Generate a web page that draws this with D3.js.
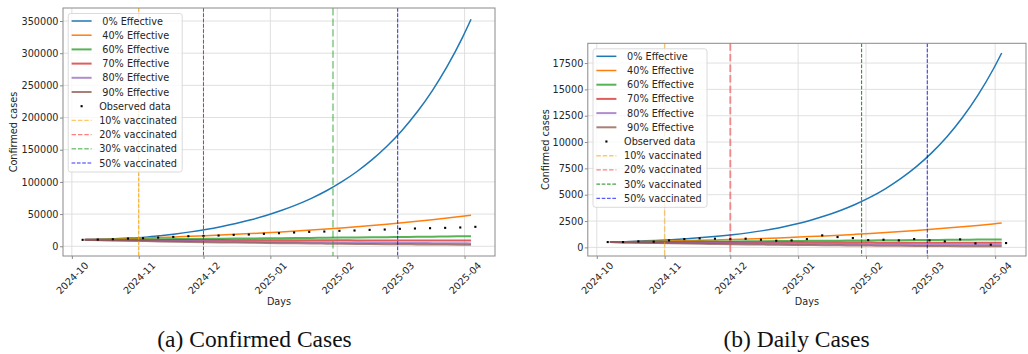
<!DOCTYPE html>
<html>
<head>
<meta charset="utf-8">
<script src="https://cdn.jsdelivr.net/npm/d3@7"></script>
<style>
  html, body { margin: 0; padding: 0; background: #fff; }
  svg { display: block; }
  text { font-family: "DejaVu Sans", sans-serif; }
</style>
</head>
<body>
<svg id="chart" width="1028" height="354"></svg>
<script>
// ---- data ----------------------------------------------------------------
const observedDates = [
  "2024-10-06","2024-10-13","2024-10-20","2024-10-27","2024-11-03","2024-11-10","2024-11-17",
  "2024-11-24","2024-12-01","2024-12-08","2024-12-15","2024-12-22","2024-12-29","2025-01-05",
  "2025-01-12","2025-01-19","2025-01-26","2025-02-02","2025-02-09","2025-02-16","2025-02-23",
  "2025-03-02","2025-03-09","2025-03-16","2025-03-23","2025-03-30","2025-04-06"
];
const modelDates = [
  "2024-10-07","2024-10-14","2024-10-21","2024-10-28","2024-11-04","2024-11-11","2024-11-18",
  "2024-11-25","2024-12-02","2024-12-09","2024-12-16","2024-12-23","2024-12-30","2025-01-06",
  "2025-01-13","2025-01-20","2025-01-27","2025-02-03","2025-02-10","2025-02-17","2025-02-24",
  "2025-03-03","2025-03-10","2025-03-17","2025-03-24","2025-03-31","2025-04-04"
];

const efficacyLabels = [" 0% Effective", " 40% Effective", " 60% Effective", " 70% Effective", " 80% Effective", " 90% Effective"];
const vaccinationLabels = ["10% vaccinated", "20% vaccinated", "30% vaccinated", "50% vaccinated"];
const vaccinationDates = ["2024-11-01", "2024-12-01", "2025-01-30", "2025-03-01"];

// cumulative confirmed cases
const confirmedObserved = [10000, 10400, 11000, 12000, 12500, 13500, 14600, 15600, 16100, 16700, 17700, 18200, 19300, 20300,
  21400, 22400, 22900, 24000, 24500, 25500, 26000, 27100, 27600, 28100, 28600, 29200, 30200];
const confirmed0 = [10000, 10830, 11730, 12710, 14190, 16520, 19230, 22380, 26050, 30330, 35300, 41090, 47850, 55510,
  64310, 74490, 86300, 99960, 115800, 134150, 155400, 180000, 208560, 241570, 279820, 324170, 352700];
const confirmed40 = [10000, 10640, 11310, 12030, 12790, 13610, 14470, 15390, 16370, 17410, 18520, 19690, 20940, 22270,
  23690, 25190, 26790, 28500, 30310, 32230, 34280, 36460, 38770, 41240, 43860, 46640, 48320];
const confirmed60 = [10000, 10177, 10357, 10540, 10726, 10915, 11108, 11305, 11505, 11708, 11915, 12125, 12339, 12557,
  12779, 13005, 13234, 13468, 13706, 13948, 14194, 14445, 14700, 14960, 15224, 15493, 15644];
const confirmed70 = [10000, 9950, 9900, 9851, 9802, 9753, 9704, 9656, 9608, 9560, 9512, 9465, 9418, 9371,
  9324, 9277, 9231, 9185, 9139, 9094, 9048, 9003, 8958, 8914, 8869, 8825, 8800];
const confirmed80 = [10000, 9693, 9395, 9106, 8826, 8555, 8292, 8037, 7790, 7550, 7318, 7093, 6875, 6664,
  6459, 6260, 6068, 5881, 5700, 5525, 5355, 5191, 5031, 4877, 4727, 4581, 4500];
const confirmed90 = [10000, 9457, 8944, 8458, 7999, 7565, 7154, 6766, 6399, 6051, 5723, 5412, 5118, 4840,
  4578, 4329, 4094, 3872, 3662, 3463, 3275, 3097, 2929, 2770, 2620, 2478, 2400];

// daily cases
const dailyObserved = [506, 506, 570, 540, 665, 790, 855, 823, 790, 823, 728, 633, 665, 790,
  1140, 981, 886, 696, 728, 665, 790, 665, 570, 760, 380, 253, 411];
const daily0 = [500, 545, 599, 662, 736, 824, 928, 1052, 1200, 1378, 1592, 1851, 2166, 2538,
  2972, 3480, 4075, 4772, 5588, 6543, 7662, 8972, 10505, 12302, 14405, 16867, 18459];
const daily40 = [500, 526, 553, 581, 611, 642, 675, 709, 747, 795, 847, 902, 961, 1023,
  1090, 1161, 1236, 1318, 1407, 1503, 1604, 1713, 1829, 1952, 2084, 2225, 2310];
const daily60 = [500, 508, 517, 525, 534, 543, 552, 561, 570, 579, 589, 599, 609, 619,
  629, 639, 650, 661, 672, 683, 694, 705, 717, 729, 741, 753, 760];
const daily70 = [500, 497, 494, 491, 488, 486, 483, 480, 477, 474, 471, 469, 466, 463,
  460, 458, 455, 452, 450, 447, 444, 442, 439, 437, 434, 432, 430];
const daily80 = [500, 486, 472, 459, 446, 433, 421, 409, 397, 386, 375, 365, 354, 344,
  335, 325, 316, 307, 298, 290, 282, 274, 266, 258, 251, 244, 240];
const daily90 = [500, 470, 441, 414, 389, 365, 343, 322, 302, 284, 267, 250, 235, 221,
  207, 195, 183, 172, 161, 151, 142, 133, 125, 118, 110, 104, 100];

const monthTicks = ["2024-10-01","2024-11-01","2024-12-01","2025-01-01","2025-02-01","2025-03-01","2025-04-01"];
const confirmedTicks = [0, 50000, 100000, 150000, 200000, 250000, 300000, 350000];
const dailyTicks = [0, 2500, 5000, 7500, 10000, 12500, 15000, 17500];

// ---- styles --------------------------------------------------------------
const effColors = ["#1f77b4", "#ff7f0e", "#2ca02c", "#d62728", "#9467bd", "#8c564b"];
const effWidths = [1.5, 1.5, 2, 2, 2, 2];
const effOpacity = [1, 1, 0.8, 0.75, 0.75, 0.75];
const FONT = 9.7;
const DOT = 2.1;

const parse = d3.utcParse("%Y-%m-%d");
const fmtMonth = d3.utcFormat("%Y-%m");
const svg = d3.select("#chart");

function dash(w) { return `${3.7 * w},${1.6 * w}`; }

function drawPanel(p) {
  const box = p.box;
  const obsD = observedDates.map(parse);
  const modD = modelDates.map(parse);
  const [xa, xb] = d3.extent(obsD.concat(modD));
  const xPad = (xb - xa) * 0.05;
  const x = d3.scaleUtc()
    .domain([new Date(+xa - xPad), new Date(+xb + xPad)])
    .range([box.left, box.right]);
  const allVals = p.observed.concat(...p.model);
  const [ya, yb] = d3.extent(allVals);
  const yPad = (yb - ya) * 0.05;
  const y = d3.scaleLinear().domain([ya - yPad, yb + yPad]).range([box.bottom, box.top]);

  const g = svg.append("g");

  // grid
  const grid = g.append("g").attr("stroke", "#dcdcdc").attr("stroke-width", 0.9);
  grid.selectAll("line.h").data(p.yTicks).join("line").attr("class", "h")
    .attr("x1", box.left).attr("x2", box.right)
    .attr("y1", d => y(d)).attr("y2", d => y(d));
  grid.selectAll("line.v").data(monthTicks.map(parse)).join("line").attr("class", "v")
    .attr("y1", box.top).attr("y2", box.bottom)
    .attr("x1", d => x(d)).attr("x2", d => x(d));

  // model curves
  const line = d3.line().x((d, i) => x(modD[i])).y(d => y(d)).curve(d3.curveMonotoneX);
  p.model.forEach((series, k) => {
    g.append("path").datum(series)
      .attr("fill", "none")
      .attr("stroke", effColors[k])
      .attr("stroke-width", effWidths[k])
      .attr("stroke-opacity", effOpacity[k])
      .attr("d", line);
  });

  // observed points
  g.append("g").selectAll("rect").data(p.observed).join("rect")
    .attr("x", (d, i) => x(obsD[i]) - DOT / 2)
    .attr("y", d => y(d) - DOT / 2)
    .attr("width", DOT).attr("height", DOT)
    .attr("fill", "#000");

  // vaccination thresholds
  vaccinationDates.map(parse).forEach((d, k) => {
    const s = p.vlines[k];
    g.append("line")
      .attr("x1", x(d)).attr("x2", x(d))
      .attr("y1", box.top).attr("y2", box.bottom)
      .attr("stroke", s.color).attr("stroke-width", s.width)
      .attr("stroke-opacity", s.opacity)
      .attr("stroke-dasharray", dash(s.width));
  });

  // frame
  g.append("rect")
    .attr("x", box.left).attr("y", box.top)
    .attr("width", box.right - box.left).attr("height", box.bottom - box.top)
    .attr("fill", "none").attr("stroke", "#8a8a8a").attr("stroke-width", 1);

  // y axis
  const yAxis = g.append("g").attr("transform", `translate(${box.left},0)`)
    .call(d3.axisLeft(y).tickValues(p.yTicks).tickFormat(d3.format("d")).tickSize(3).tickPadding(1.5));
  yAxis.select(".domain").remove();
  yAxis.selectAll(".tick line").attr("stroke", "#8a8a8a");
  yAxis.selectAll(".tick text").attr("fill", "#262626")
    .style("font-size", FONT + "px").style("font-family", "DejaVu Sans");

  // x axis
  const xAxis = g.append("g").attr("transform", `translate(0,${box.bottom})`)
    .call(d3.axisBottom(x).tickValues(monthTicks.map(parse)).tickFormat(fmtMonth).tickSize(3));
  xAxis.select(".domain").remove();
  xAxis.selectAll(".tick line").attr("stroke", "#8a8a8a");
  xAxis.selectAll(".tick text")
    .attr("y", null).attr("dy", null)
    .attr("text-anchor", "middle")
    .attr("dominant-baseline", "central")
    .attr("transform", "translate(0,22) rotate(-45)")
    .attr("fill", "#262626")
    .style("font-size", FONT + "px").style("font-family", "DejaVu Sans");

  // axis titles
  g.append("text")
    .attr("x", (box.left + box.right) / 2).attr("y", box.bottom + 45.5)
    .attr("text-anchor", "middle").attr("dominant-baseline", "central")
    .attr("fill", "#262626").style("font-size", FONT + "px")
    .text("Days");
  g.append("text")
    .attr("transform", `translate(${p.yLabelX},${(box.top + box.bottom) / 2}) rotate(-90)`)
    .attr("text-anchor", "middle").attr("dominant-baseline", "central")
    .attr("fill", "#262626").style("font-size", FONT + "px")
    .text("Confirmed cases");

  // legend
  const lx = box.left + 5.2, ly = box.top + 5.5;
  const lg = g.append("g").attr("transform", `translate(${lx},${ly})`);
  lg.append("rect").attr("width", 114).attr("height", 158.5).attr("rx", 2.5)
    .attr("fill", "#fff").attr("fill-opacity", 0.8)
    .attr("stroke", "#d6d6d6").attr("stroke-width", 0.9);
  const rowY = i => 7.5 + i * 14.2;
  efficacyLabels.forEach((lab, k) => {
    lg.append("line").attr("x1", 3.4).attr("x2", 23.4).attr("y1", rowY(k)).attr("y2", rowY(k))
      .attr("stroke", effColors[k]).attr("stroke-width", effWidths[k]).attr("stroke-opacity", effOpacity[k]);
    lg.append("text").attr("x", 31).attr("y", rowY(k)).attr("dominant-baseline", "central")
      .attr("xml:space", "preserve").style("white-space", "pre")
      .attr("fill", "#262626").style("font-size", FONT + "px").text(lab);
  });
  lg.append("rect").attr("x", 13.4 - DOT / 2).attr("y", rowY(6) - DOT / 2).attr("width", DOT).attr("height", DOT).attr("fill", "#000");
  lg.append("text").attr("x", 31).attr("y", rowY(6)).attr("dominant-baseline", "central")
    .attr("fill", "#262626").style("font-size", FONT + "px").text("Observed data");
  vaccinationLabels.forEach((lab, k) => {
    const s = p.legendV[k];
    lg.append("line").attr("x1", 3.4).attr("x2", 23.4).attr("y1", rowY(7 + k)).attr("y2", rowY(7 + k))
      .attr("stroke", s.color).attr("stroke-width", s.width).attr("stroke-opacity", s.opacity)
      .attr("stroke-dasharray", dash(Math.min(s.width, 1.2)));
    lg.append("text").attr("x", 31).attr("y", rowY(7 + k)).attr("dominant-baseline", "central")
      .attr("fill", "#262626").style("font-size", FONT + "px").text(lab);
  });

  // caption
  svg.append("text")
    .attr("x", p.captionX).attr("y", 346.5)
    .attr("text-anchor", "middle")
    .style("font-family", "'Liberation Serif', 'Times New Roman', serif")
    .style("font-size", "23.5px").attr("fill", "#111")
    .text(p.caption);
}

drawPanel({
  box: { left: 63, right: 495, top: 8, bottom: 256 },
  observed: confirmedObserved,
  model: [confirmed0, confirmed40, confirmed60, confirmed70, confirmed80, confirmed90],
  yTicks: confirmedTicks,
  yLabelX: 13,
  caption: "(a) Confirmed Cases",
  captionX: 254.5,
  vlines: [
    { color: "#ffa500", width: 1, opacity: 0.95 },
    { color: "#ff0000", width: 1, opacity: 0.85 },
    { color: "#2ca02c", width: 2, opacity: 0.45 },
    { color: "#0000ff", width: 1, opacity: 0.8 }
  ],
  legendV: [
    { color: "#ffa500", width: 1.4, opacity: 0.6 },
    { color: "#ff0000", width: 1.4, opacity: 0.5 },
    { color: "#2ca02c", width: 1.4, opacity: 0.6 },
    { color: "#0000ff", width: 1, opacity: 0.8 }
  ]
});

drawPanel({
  box: { left: 587.8, right: 1026, top: 43.3, bottom: 256 },
  observed: dailyObserved,
  model: [daily0, daily40, daily60, daily70, daily80, daily90],
  yTicks: dailyTicks,
  yLabelX: 545,
  caption: "(b) Daily Cases",
  captionX: 796.5,
  vlines: [
    { color: "#ffa500", width: 1.5, opacity: 0.5 },
    { color: "#ff0000", width: 2, opacity: 0.4 },
    { color: "#008000", width: 1, opacity: 0.9 },
    { color: "#0000ff", width: 1, opacity: 0.8 }
  ],
  legendV: [
    { color: "#ffa500", width: 1.4, opacity: 0.6 },
    { color: "#ff0000", width: 1.4, opacity: 0.5 },
    { color: "#008000", width: 1, opacity: 0.9 },
    { color: "#0000ff", width: 1, opacity: 0.8 }
  ]
});
</script>
</body>
</html>
